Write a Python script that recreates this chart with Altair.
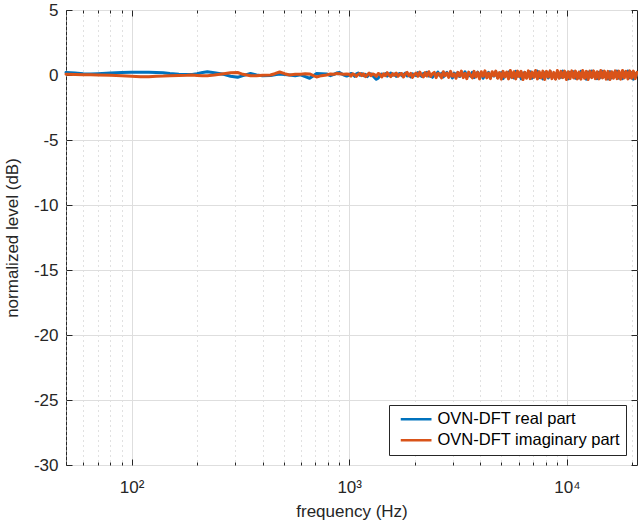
import altair as alt
import numpy as np
import pandas as pd

series_names = ["OVN-DFT real part", "OVN-DFT imaginary part"]
series_colors = ["#0072BD", "#D95319"]

# low-frequency part (Hz)
freq_low = [50, 55, 60, 65, 70, 80, 90, 100, 110, 120,
            130, 140, 150, 165, 180, 190, 200, 212, 223, 240,
            265, 285, 307, 325, 352, 375, 400, 435, 455, 479,
            505, 532, 565, 598, 628, 658, 685, 708, 745, 787,
            820, 850, 875, 903, 940, 974]
real_low = [0.20, 0.15, 0.10, 0.08, 0.10, 0.15, 0.20, 0.22, 0.22, 0.22,
            0.20, 0.18, 0.12, 0.06, 0.03, 0.04, 0.10, 0.20, 0.25, 0.18,
            0.05, -0.10, -0.18, -0.05, 0.12, 0.00, -0.05, -0.04, 0.02, 0.08,
            0.03, 0.00, -0.06, 0.02, -0.12, -0.25, -0.05, 0.12, 0.10, 0.08,
            -0.05, 0.05, 0.15, 0.19, 0.02, -0.08]
imag_low = [0.05, 0.04, 0.02, 0.01, 0.00, -0.02, -0.06, -0.10, -0.13, -0.13,
            -0.10, -0.08, -0.05, -0.03, -0.02, 0.00, -0.03, -0.06, -0.05, 0.00,
            0.10, 0.17, 0.19, 0.05, -0.05, -0.05, -0.02, 0.00, 0.10, 0.23,
            0.10, 0.00, 0.05, 0.05, 0.10, 0.08, -0.05, -0.15, -0.05, 0.00,
            0.08, 0.05, 0.12, 0.10, 0.05, 0.08]

# high-frequency part: log-spaced frequency grid 1 kHz .. 21 kHz
freq_high = list(np.geomspace(1000, 21000, 160))
real_high = [0.00, 0.12, 0.05, -0.10, 0.08, 0.15, -0.02, 0.10, -0.05, 0.05,
             -0.12, 0.02, 0.10, -0.05, -0.20, -0.33, -0.25, -0.05, 0.08, 0.00,
             0.10, -0.08, 0.05, 0.15, -0.02, 0.08, -0.10, 0.05, 0.12, -0.05,
             0.02, 0.15, -0.08, 0.05, -0.15, 0.10, 0.02, -0.05, 0.18, 0.00,
             -0.10, 0.12, -0.02, 0.20, -0.08, 0.05, -0.18, 0.10, 0.00, 0.22,
             -0.05, 0.12, -0.15, 0.08, 0.20, -0.10, 0.05, -0.22, 0.15, 0.02,
             0.18, -0.12, 0.08, -0.05, 0.25, -0.15, 0.10, -0.08, 0.20, -0.20,
             0.05, 0.22, -0.12, 0.15, -0.25, 0.10, 0.00, 0.20, -0.18, 0.12,
             -0.08, 0.25, -0.20, 0.05, 0.18, -0.28, 0.12, -0.05, 0.22, -0.15,
             0.10, -0.22, 0.28, -0.10, 0.15, -0.30, 0.08, 0.20, -0.18, 0.05,
             0.25, -0.25, 0.12, -0.08, 0.30, -0.20, 0.05, -0.30, 0.18, 0.10,
             -0.22, 0.28, -0.15, 0.08, -0.28, 0.22, 0.00, -0.18, 0.30, -0.12,
             0.15, -0.30, 0.20, -0.05, 0.25, -0.25, 0.10, -0.20, 0.28, -0.10,
             0.05, -0.32, 0.22, -0.15, 0.30, -0.08, 0.12, -0.28, 0.20, -0.18,
             0.28, -0.12, 0.08, -0.30, 0.25, -0.22, 0.15, -0.10, 0.30, -0.25,
             0.10, -0.28, 0.22, -0.05, 0.30, -0.20, 0.18, -0.32, 0.12, 0.00]
imag_high = [0.05, -0.08, 0.10, 0.02, -0.10, 0.05, 0.12, -0.05, 0.08, -0.12,
             0.00, 0.15, -0.05, 0.08, 0.02, -0.10, 0.12, 0.05, -0.15, 0.10,
             -0.05, 0.18, 0.00, -0.12, 0.10, -0.02, 0.15, -0.10, 0.05, 0.12,
             -0.15, 0.08, 0.20, -0.05, 0.12, -0.18, 0.05, 0.15, -0.10, 0.22,
             0.00, -0.15, 0.18, -0.08, 0.25, -0.12, 0.10, 0.20, -0.20, 0.12,
             0.05, -0.22, 0.25, -0.05, 0.15, -0.18, 0.28, -0.10, 0.08, -0.25,
             0.20, -0.08, 0.30, -0.20, 0.12, -0.28, 0.22, 0.02, -0.22, 0.28,
             -0.15, 0.20, -0.30, 0.25, -0.10, 0.32, -0.22, 0.15, -0.28, 0.25,
             -0.05, 0.30, -0.25, 0.18, -0.32, 0.28, -0.15, 0.22, -0.30, 0.35,
             -0.20, 0.25, -0.30, 0.30, -0.12, 0.28, -0.35, 0.20, -0.25, 0.32,
             -0.28, 0.22, -0.18, 0.35, -0.30, 0.25, -0.22, 0.30, -0.35, 0.28,
             -0.15, 0.32, -0.28, 0.20, -0.32, 0.35, -0.25, 0.28, -0.20, 0.30,
             -0.35, 0.25, -0.28, 0.32, -0.22, 0.30, -0.30, 0.22, -0.32, 0.35,
             -0.25, 0.28, -0.35, 0.30, -0.20, 0.32, -0.28, 0.25, -0.30, 0.35,
             -0.22, 0.30, -0.32, 0.28, -0.35, 0.25, -0.25, 0.32, -0.28, 0.30,
             -0.32, 0.35, -0.22, 0.28, -0.30, 0.32, -0.25, 0.30, -0.28, 0.20]

y_ticks = [-30, -25, -20, -15, -10, -5, 0, 5]
x_ticks = [50, 60, 70, 80, 90,
           100, 200, 300, 400, 500, 600, 700, 800, 900,
           1000, 2000, 3000, 4000, 5000, 6000, 7000, 8000, 9000,
           10000, 20000]
decade_labels = {100: "10²", 1000: "10³", 10000: "10⁴"}
x_domain = [50, 21000]
y_domain = [-30, 5]

freqs = list(freq_low) + list(freq_high)
df = pd.DataFrame({
    "f": freqs + freqs,
    "v": real_low + real_high + imag_low + imag_high,
    "series": [series_names[0]] * len(freqs) + [series_names[1]] * len(freqs),
})

W, H = 571, 455
FONT = "Liberation Sans"
INK = "#262626"

xs = alt.Scale(type="log", domain=x_domain, nice=False)
ys = alt.Scale(domain=y_domain, nice=False, zero=False)

decade_test = " || ".join(f"datum.value == {k}" for k in decade_labels)
label_expr = " : ".join(f"datum.value == {k} ? '{v}'" for k, v in decade_labels.items()) + " : ''"

x_main_axis = alt.Axis(
    values=x_ticks, labelExpr=label_expr, ticks=False, domain=False,
    grid=True,
    gridColor={"condition": {"test": decade_test, "value": "#dedede"}, "value": "#c2c2c2"},
    gridDash={"condition": {"test": decade_test, "value": []}, "value": [1, 4]},
    gridWidth=1,
    labelFont=FONT, labelFontSize=17, labelColor=INK, labelPadding=14,
    labelOverlap=False, labelFlush=False,
    title="frequency (Hz)", titleFont=FONT, titleFontSize=17,
    titleFontWeight="normal", titleColor=INK, titlePadding=8,
)
y_main_axis = alt.Axis(
    values=y_ticks, labelExpr="'' + datum.value", ticks=False, domain=False,
    grid=True, gridColor="#dedede", gridWidth=1,
    labelFont=FONT, labelFontSize=17, labelColor=INK, labelPadding=8,
    title="normalized level (dB)", titleFont=FONT, titleFontSize=17,
    titleFontWeight="normal", titleColor=INK, titlePadding=12,
)

x_tick_size = {"condition": {"test": decade_test, "value": 6}, "value": 3}


def x_inner(orient):
    return alt.Axis(orient=orient, offset=-H, values=x_ticks, labels=False,
                    domain=False, grid=False, ticks=True, tickSize=x_tick_size,
                    tickColor=INK, tickWidth=1, title=None)


def y_inner(orient):
    return alt.Axis(orient=orient, offset=-W, values=y_ticks, labels=False,
                    domain=False, grid=False, ticks=True, tickSize=6,
                    tickColor=INK, tickWidth=1, title=None)


def tick_layer(xaxis, yaxis):
    return alt.Chart(df).mark_point(opacity=0).encode(
        x=alt.X("f:Q", scale=xs, axis=xaxis),
        y=alt.Y("v:Q", scale=ys, axis=yaxis),
    )


color = alt.Color(
    "series:N",
    scale=alt.Scale(domain=series_names, range=series_colors),
    legend=alt.Legend(
        title=None, orient="none", legendX=323, legendY=395,
        direction="vertical",
        symbolType="M-1,0H11.3", symbolSize=25, symbolStrokeWidth=2.5,
        labelFont=FONT, labelFontSize=16.5, labelColor="#000000",
        labelOffset=26, labelLimit=400, rowPadding=4,
        strokeColor=INK, fillColor="white", padding=6, cornerRadius=0,
    ),
)

real_line = alt.Chart(df).transform_filter(
    alt.datum.series == series_names[0]
).mark_line(strokeWidth=3, strokeJoin="round", strokeCap="round").encode(
    x=alt.X("f:Q", scale=xs, axis=x_main_axis),
    y=alt.Y("v:Q", scale=ys, axis=y_main_axis),
    color=color,
)
imag_line = alt.Chart(df).transform_filter(
    alt.datum.series == series_names[1]
).mark_line(strokeWidth=3, strokeJoin="round", strokeCap="round").encode(
    x=alt.X("f:Q", scale=xs, axis=None),
    y=alt.Y("v:Q", scale=ys, axis=None),
    color=color,
)

chart = alt.layer(
    tick_layer(x_inner("top"), None),
    tick_layer(x_inner("bottom"), None),
    tick_layer(None, y_inner("right")),
    tick_layer(None, y_inner("left")),
    real_line,
    imag_line,
).resolve_axis(x="independent", y="independent").properties(
    width=W, height=H,
    padding={"left": 66, "top": 10, "right": 1, "bottom": 63},
    autosize="none",
    background="white",
).configure_view(stroke=INK, strokeWidth=1)

chart.save("out.html", embed_options={"renderer": "svg", "actions": False})
